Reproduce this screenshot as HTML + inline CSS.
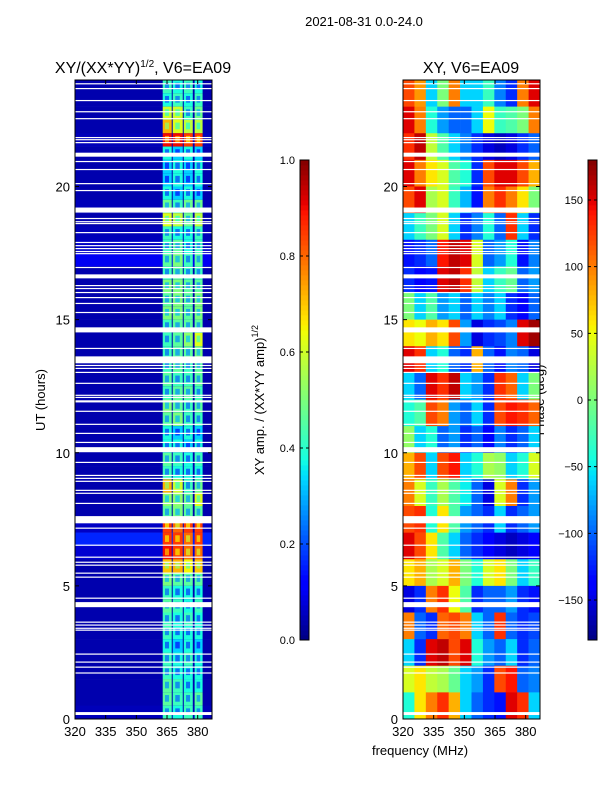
<!DOCTYPE html>
<html><head><meta charset="utf-8">
<style>
html,body{margin:0;padding:0;background:#fff;}
svg{display:block;font-family:"Liberation Sans","DejaVu Sans",sans-serif;}
</style></head>
<body>
<svg id="fig" width="600" height="800" viewBox="0 0 600 800" xmlns="http://www.w3.org/2000/svg">
<rect x="0" y="0" width="600" height="800" fill="#fff"/>
<text x="364" y="26" font-size="13" text-anchor="middle">2021-08-31 0.0-24.0</text>
<text x="143" y="73" font-size="16" text-anchor="middle">XY/(XX*YY)<tspan font-size="10" dy="-6">1/2</tspan><tspan dy="6">, V6=EA09</tspan></text>
<text x="471" y="73" font-size="16" text-anchor="middle">XY, V6=EA09</text>
<text transform="translate(45,400) rotate(-90)" font-size="13" text-anchor="middle">UT (hours)</text>
<text x="420" y="755" font-size="13" text-anchor="middle">frequency (MHz)</text>
<text transform="translate(264,400) rotate(-90)" font-size="13" text-anchor="middle">XY amp. / (XX*YY amp)<tspan font-size="9" dy="-6">1/2</tspan></text>
<text transform="translate(544,400) rotate(-90)" font-size="13" text-anchor="middle">Phase (deg)</text>
<g id="left"></g>
<g id="right"></g>
<g id="cbars"></g>
</svg>
<script>
// ---------- data ----------
const freqMin = 320, freqMax = 387, hourMin = 0, hourMax = 24;
const xTicks = [320, 335, 350, 365, 380];
const yTicks = [0, 5, 10, 15, 20];
// amplitude sub-bands (MHz)
const bandStart = [362.9, 367.8, 373.2, 378.5];
const bandEnd = [367.3, 372.7, 377.6, 382.4];
// half-hour rows, from 23.5-24 down to 0-0.5 ; 4 sub-band amplitudes
const ampRows = [
[0.42,0.38,0.42,0.38],[0.38,0.42,0.38,0.42],[0.6,0.6,0.42,0.48],[0.72,0.62,0.58,0.58],
[0.9,0.9,0.85,0.85],[0.38,0.33,0.38,0.33],[0.33,0.38,0.33,0.38],[0.33,0.38,0.33,0.38],
[0.38,0.33,0.38,0.33],[0.48,0.42,0.48,0.48],[0.62,0.58,0.48,0.58],[0.42,0.38,0.38,0.42],
[0.42,0.46,0.38,0.42],[0.46,0.5,0.42,0.46],[0.42,0.46,0.42,0.42],[0.5,0.5,0.46,0.46],
[0.46,0.5,0.46,0.5],[0.5,0.5,0.46,0.5],[0.42,0.46,0.46,0.46],[0.42,0.46,0.52,0.62],
[0.42,0.46,0.46,0.5],[0.42,0.46,0.42,0.46],[0.46,0.42,0.42,0.46],[0.42,0.46,0.46,0.42],
[0.5,0.46,0.42,0.46],[0.46,0.5,0.42,0.42],[0.38,0.33,0.38,0.33],[0.38,0.38,0.33,0.38],
[0.46,0.42,0.38,0.42],[0.42,0.38,0.38,0.38],[0.72,0.6,0.42,0.48],[0.52,0.52,0.48,0.62],
[0.46,0.5,0.46,0.46],[0.85,0.8,0.85,0.85],[0.85,0.85,0.8,0.85],[0.9,0.85,0.8,0.8],
[0.7,0.72,0.65,0.7],[0.5,0.46,0.46,0.46],[0.42,0.38,0.38,0.38],[0.46,0.42,0.38,0.42],
[0.42,0.38,0.42,0.38],[0.42,0.38,0.38,0.38],[0.38,0.33,0.38,0.33],[0.42,0.38,0.42,0.38],
[0.42,0.38,0.38,0.38],[0.46,0.42,0.38,0.38],[0.46,0.42,0.42,0.46],[0.42,0.38,0.42,0.42]
];
// background amplitude per half-hour row (same order)
const ampBg = [0.04,0.04,0.04,0.04,0.05,0.04,0.04,0.04,0.04,0.05,0.04,0.05,0.06,0.1,0.04,0.04,
0.04,0.04,0.04,0.04,0.04,0.04,0.04,0.04,0.04,0.04,0.04,0.04,0.04,0.04,0.04,0.04,
0.04,0.06,0.16,0.07,0.04,0.04,0.04,0.04,0.04,0.04,0.04,0.04,0.04,0.04,0.04,0.05];
// phase grid: hourly rows from 23-24 down to 0-1, 12 frequency columns (degrees)
const phaseRows = [
[120,90,-60,0,100,-60,-60,-30,-90,-120,100,150],
[150,100,-40,-80,-100,-100,-60,50,-30,-20,0,100],
[130,160,30,-20,-60,-90,-120,-150,-160,-150,-120,-100],
[150,100,60,40,-20,-40,-120,120,150,150,120,80],
[120,150,20,40,-30,-70,-130,100,130,100,60,0],
[-60,-30,0,40,-60,-120,-90,-40,-100,130,-60,-120],
[-130,-120,-100,140,160,150,40,-100,-80,-40,-130,-90],
[-120,-140,-130,150,160,130,30,-60,-30,-10,-100,-80],
[0,-60,-20,-80,-60,-100,-60,-90,-60,-120,-140,-100],
[60,50,80,60,120,-80,-150,-120,-110,-90,150,170],
[150,130,-60,-40,-100,-120,80,-100,-130,-90,-100,-150],
[-60,-100,150,130,160,-60,-80,-120,130,110,-60,0],
[-40,-20,120,100,-80,-100,-60,-120,120,140,130,110],
[10,-60,-40,-100,-80,-120,-100,-140,-90,-120,-100,-60],
[80,120,-60,120,140,-60,-40,20,10,-60,-40,40],
[100,40,-30,20,-20,-50,-100,-150,40,100,-120,-80],
[120,130,-40,60,-20,-80,-100,-120,-60,-120,-100,-80],
[150,120,60,-20,-60,-100,-120,-140,-150,-160,-150,-140],
[60,80,20,40,80,0,-40,40,60,0,-60,-30],
[-150,-120,100,130,50,-20,-120,-100,-100,-80,-120,-130],
[100,-100,-120,110,120,100,-60,-100,130,-100,-120,-110],
[-60,-120,150,160,120,150,-40,-80,-100,-60,-120,-100],
[40,60,30,20,-10,-60,-80,-120,120,140,-100,-90],
[-40,60,100,130,80,-60,-100,-120,-130,150,130,-60]
];
// flagged (white) time intervals in hours [start, end]
const flagStart = [23.84,23.66,23.21,22.79,22.53,21.82,21.74,21.63,21.12,20.92,20.62,20.09,19.83,19.02,18.78,18.66,18.59,18.25,17.88,17.76,17.65,17.54,17.46,16.94,16.55,16.26,16.15,16.0,15.81,15.59,15.25,14.52,13.9,13.36,13.26,13.15,13.0,12.59,12.14,12.06,11.89,11.54,11.05,10.71,10.37,10.02,9.62,9.13,9.02,8.91,8.57,8.46,8.08,7.35,7.15,6.51,6.06,5.87,5.76,5.46,5.31,4.52,4.2,3.62,3.51,3.39,3.32,2.42,2.12,1.93,1.71,0.15];
const flagEnd   = [23.88,23.7,23.25,22.83,22.57,21.86,21.78,21.67,21.27,20.96,20.66,20.13,19.87,19.21,18.82,18.7,18.63,18.29,17.92,17.8,17.69,17.58,17.5,16.98,16.7,16.3,16.19,16.04,15.85,15.63,15.29,14.71,13.94,13.62,13.3,13.19,13.04,12.63,12.18,12.1,11.97,11.58,11.09,10.75,10.41,10.21,9.66,9.17,9.06,8.95,8.61,8.5,8.12,7.62,7.19,6.55,6.1,5.91,5.8,5.5,5.35,4.56,4.39,3.66,3.55,3.43,3.36,2.46,2.16,1.97,1.75,0.26];
const ampTicks = [0.0, 0.2, 0.4, 0.6, 0.8, 1.0];
const phaseTicks = [-150, -100, -50, 0, 50, 100, 150];

// ---------- helpers ----------
const NS = "http://www.w3.org/2000/svg";
function mk(tag, attrs, parent) {
  const e = document.createElementNS(NS, tag);
  for (const k in attrs) e.setAttribute(k, attrs[k]);
  parent.appendChild(e);
  return e;
}
function interp(pts, v) {
  if (v <= pts[0][0]) return pts[0][1];
  for (let i = 1; i < pts.length; i++) {
    if (v <= pts[i][0]) {
      const t = (v - pts[i-1][0]) / (pts[i][0] - pts[i-1][0]);
      return pts[i-1][1] + t * (pts[i][1] - pts[i-1][1]);
    }
  }
  return pts[pts.length-1][1];
}
function jet(v) {
  v = Math.max(0, Math.min(1, v));
  const r = interp([[0,0],[0.35,0],[0.66,1],[0.89,1],[1,0.5]], v);
  const g = interp([[0,0],[0.125,0],[0.375,1],[0.64,1],[0.91,0],[1,0]], v);
  const b = interp([[0,0.5],[0.11,1],[0.34,1],[0.65,0],[1,0]], v);
  return `rgb(${Math.round(r*255)},${Math.round(g*255)},${Math.round(b*255)})`;
}
const panels = [{x0:75, x1:212, id:'left'}, {x0:403, x1:540, id:'right'}];
const Y0 = 719, Y1 = 80;
function yScale(h) { return Y0 - (h - hourMin) / (hourMax - hourMin) * (Y0 - Y1); }
function xScale(p, f) { return p.x0 + (f - freqMin) / (freqMax - freqMin) * (p.x1 - p.x0); }

// ---------- amplitude panel ----------
const L = panels[0], gL = document.getElementById('left');
const nHalf = ampRows.length;
for (let i = 0; i < nHalf; i++) {
  const hTop = hourMax - i * 0.5, hBot = hTop - 0.5;
  const y = yScale(hTop), hgt = yScale(hBot) - y;
  const bg = mk('rect', {x:L.x0, y:y, width:L.x1-L.x0, height:hgt+0.3, fill:jet(ampBg[i])}, gL);
  
  
  for (let b = 0; b < bandStart.length; b++) {
    const xa = xScale(L, bandStart[b]), xb = xScale(L, bandEnd[b]);
    const c = mk('rect', {x:xa, y:y, width:xb-xa, height:hgt+0.3, fill:jet(ampRows[i][b])}, gL);
    
    
    const inner = mk('rect', {x:xa+(xb-xa)*0.25, y:y+hgt*0.2, width:(xb-xa)*0.45, height:hgt*0.5, fill:jet(ampRows[i][b]-0.2), opacity:0.7}, gL);
    
    
  }
}

// ---------- phase panel ----------
const R = panels[1], gR = document.getElementById('right');
const nCols = phaseRows[0].length;
for (let i = 0; i < phaseRows.length; i++) {
  const hTop = hourMax - i, hBot = hTop - 1;
  const y = yScale(hTop), hgt = yScale(hBot) - y;
  for (let j = 0; j < nCols; j++) {
    const fa = freqMin + j * (freqMax - freqMin) / nCols, fb = fa + (freqMax - freqMin) / nCols;
    const xa = xScale(R, fa), xb = xScale(R, fb);
    const c = mk('rect', {x:xa, y:y, width:xb-xa+0.3, height:hgt+0.3, fill:jet((phaseRows[i][j] + 180) / 360)}, gR);
    
    
  }
}

// ---------- flags, frames, ticks ----------
panels.forEach((p, pi) => {
  const g = document.getElementById(p.id);
  for (let k = 0; k < flagStart.length; k++) {
    const ya = yScale(flagEnd[k]), yb = yScale(flagStart[k]);
    const f = mk('rect', {x:p.x0, y:ya, width:p.x1-p.x0, height:Math.max(1.2, yb-ya), fill:'#fff'}, g);
    
    
  }
  const fr = mk('rect', {x:p.x0, y:Y1, width:p.x1-p.x0, height:Y0-Y1, fill:'none', stroke:'#000', 'stroke-width':1}, g);
  
  
  xTicks.forEach(t => {
    const x = xScale(p, t);
    const tk = mk('path', {d:`M${x},${Y0}v-4M${x},${Y1}v4`, stroke:'#000', 'stroke-width':1}, g);
    
    
    const lb = mk('text', {x:x, y:Y0+17, 'font-size':13, 'text-anchor':'middle'}, g);
    lb.textContent = t;
    
    
  });
  yTicks.forEach(t => {
    const y = yScale(t);
    const tk = mk('path', {d:`M${p.x0},${y}h4M${p.x1},${y}h-4`, stroke:'#000', 'stroke-width':1}, g);
    
    
    const lb = mk('text', {x:p.x0-5, y:y+5, 'font-size':13, 'text-anchor':'end'}, g);
    lb.textContent = t;
    
    
  });
});

// ---------- colorbars ----------
const gC = document.getElementById('cbars');
function colorbar(x, name, vmin, vmax, ticks, fmt) {
  const top = 160, bot = 640, w = 9, n = 96;
  for (let i = 0; i < n; i++) {
    const v = (i + 0.5) / n;
    const y = bot - (i + 1) * (bot - top) / n;
    const s = mk('rect', {x:x, y:y, width:w, height:(bot-top)/n + 0.4, fill:jet(v)}, gC);
    
    
  }
  const fr = mk('rect', {x:x, y:top, width:w, height:bot-top, fill:'none', stroke:'#000', 'stroke-width':1}, gC);
  
  
  ticks.forEach(t => {
    const y = bot - (t - vmin) / (vmax - vmin) * (bot - top);
    const tk = mk('path', {d:`M${x},${y}h3M${x+w},${y}h-3`, stroke:'#000', 'stroke-width':1}, gC);
    
    
    const lb = mk('text', {x:x-5, y:y+4, 'font-size':11, 'text-anchor':'end'}, gC);
    lb.textContent = fmt(t);
    
    
  });
}
colorbar(300, 'amp-colorbar', 0, 1, ampTicks, t => t.toFixed(1));
colorbar(588, 'phase-colorbar', -180, 180, phaseTicks, t => (t < 0 ? '\u2212' + (-t) : '' + t));
</script>
</body></html>
